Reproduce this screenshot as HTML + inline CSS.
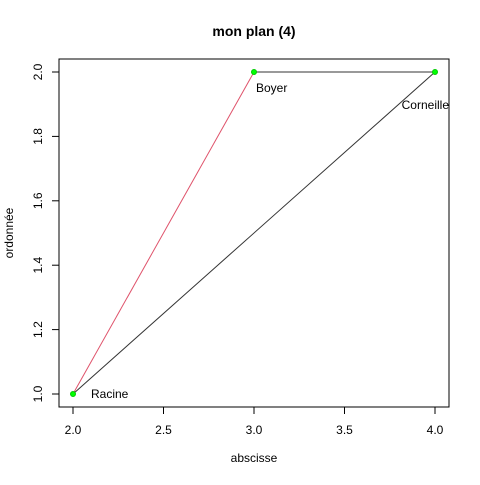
<!DOCTYPE html>
<html><head><meta charset="utf-8"><style>
body{margin:0;background:#fff;}
svg text{font-family:"Liberation Sans",sans-serif;fill:#000;}
</style></head><body>
<svg id="chart" width="480" height="480" viewBox="0 0 480 480" xmlns="http://www.w3.org/2000/svg">
<rect width="480" height="480" fill="#fff"/>
<text x="254" y="36" font-size="14" font-weight="bold" text-anchor="middle">mon plan (4)</text>
<rect x="59" y="59" width="390" height="348" fill="none" stroke="#000" stroke-width="1"/>
<text x="254" y="462" font-size="12" text-anchor="middle">abscisse</text>
<text transform="translate(13,233) rotate(-90)" font-size="12" text-anchor="middle">ordonnée</text>
<g id="axes"></g>
<g id="marks"></g>
</svg>
<script>
const names=["Racine","Boyer","Corneille"];
const xs=[2,3,4];
const ys=[1,2,2];
const xTicks=[2.0,2.5,3.0,3.5,4.0];
const yTicks=[1.0,1.2,1.4,1.6,1.8,2.0];
const NS="http://www.w3.org/2000/svg";
function X(v){return 73+(v-2)*181;}
function Y(v){return 394-(v-1)*322;}
function mk(tag,attrs,parent){const e=document.createElementNS(NS,tag);for(const k in attrs)e.setAttribute(k,attrs[k]);parent.appendChild(e);return e;}
const axes=document.getElementById('axes'),marks=document.getElementById('marks');
mk('line',{x1:X(xTicks[0]),x2:X(xTicks[xTicks.length-1]),y1:407,y2:407,stroke:'#000'},axes);
xTicks.forEach(t=>{
 const l=mk('line',{x1:X(t),x2:X(t),y1:407,y2:414,stroke:'#000'},axes);
 
 
 const tx=mk('text',{x:X(t),y:434,'font-size':12,'text-anchor':'middle'},axes);tx.textContent=t.toFixed(1);
 
 
});
mk('line',{x1:59,x2:59,y1:Y(yTicks[0]),y2:Y(yTicks[yTicks.length-1]),stroke:'#000'},axes);
yTicks.forEach(t=>{
 const l=mk('line',{x1:52,x2:59,y1:Y(t),y2:Y(t),stroke:'#000'},axes);
 
 
 const tx=mk('text',{transform:`translate(42,${Y(t)}) rotate(-90)`,'font-size':12,'text-anchor':'middle'},axes);tx.textContent=t.toFixed(1);
 
 
});
const seg=[[0,1,'#DF536B'],[1,2,'#333'],[2,0,'#333']];
seg.forEach(s=>{
 const l=mk('line',{x1:X(xs[s[0]]),y1:Y(ys[s[0]]),x2:X(xs[s[1]]),y2:Y(ys[s[1]]),stroke:s[2],'stroke-width':1},marks);
 
 
});
xs.forEach((x,i)=>{
 const c=mk('circle',{cx:X(x),cy:Y(ys[i]),r:2.5,fill:'#00ff00',stroke:'#00cc00'},marks);
 
 
});
const lab=[{dx:18,dy:4,a:'start'},{dx:2,dy:20,a:'start'},{dx:14,dy:37,a:'end'}];
xs.forEach((x,i)=>{
 const t=mk('text',{x:X(x)+lab[i].dx,y:Y(ys[i])+lab[i].dy,'font-size':12,'text-anchor':lab[i].a},marks);t.textContent=names[i];
 
 
});
</script>
</body></html>
